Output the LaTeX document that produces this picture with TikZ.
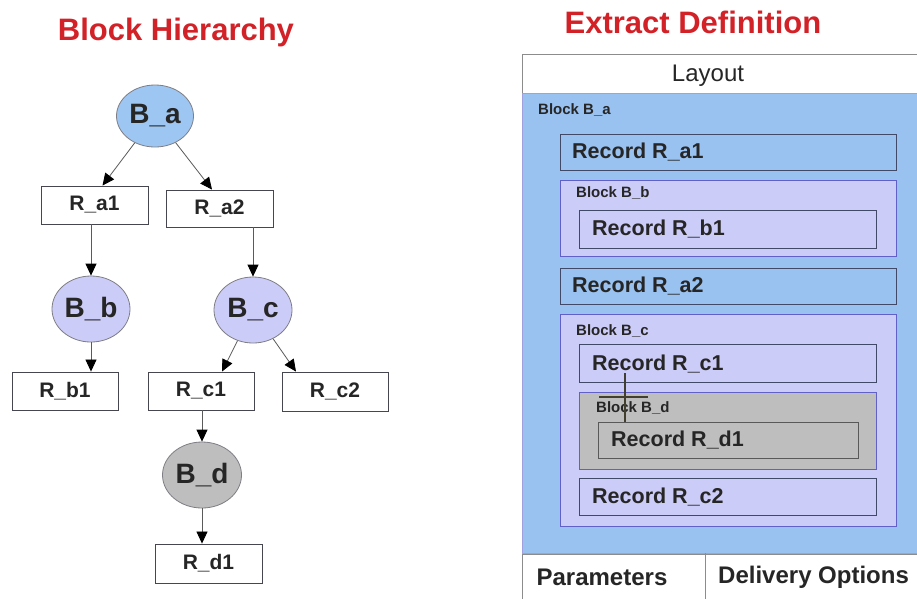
\documentclass[tikz,border=0pt]{standalone}
\usepackage{fontspec}
\setmainfont{Liberation Sans}
\usetikzlibrary{shapes.geometric,arrows.meta}
\definecolor{titlered}{RGB}{210,34,40}
\definecolor{bablue}{RGB}{158,198,242}
\definecolor{blkblue}{RGB}{153,194,240}
\definecolor{lav}{RGB}{204,204,248}
\definecolor{greyfill}{RGB}{190,190,190}
\definecolor{edgegrey}{RGB}{70,70,80}
\definecolor{blkedge}{RGB}{96,96,200}
\definecolor{recedge}{RGB}{64,74,104}
\definecolor{linegrey}{RGB}{90,90,90}
\tikzset{
  title/.style={text=titlered, font=\fontsize{31}{34}\selectfont\bfseries, inner sep=0pt},
  blk/.style={ellipse, draw=edgegrey!70, line width=0.8pt, inner sep=0pt, font=\fontsize{28}{30}\selectfont\bfseries, text=black!85},
  rbox/.style={rectangle, draw=edgegrey, fill=white, line width=0.9pt, inner sep=0pt, font=\fontsize{21}{23}\selectfont\bfseries, text=black!85},
  conn/.style={draw=linegrey, line width=0.8pt, -{Triangle[length=12pt,width=11pt,color=black]}},
  area/.style={rectangle, anchor=north west, inner sep=0pt, line width=1pt},
  rec/.style={area, draw=recedge},
  blkarea/.style={area, draw=blkedge},
  rectxt/.style={anchor=west, inner sep=0pt, font=\fontsize{21.5}{23}\selectfont\bfseries, text=black!85},
  blktxt/.style={anchor=west, inner sep=0pt, font=\fontsize{15}{17}\selectfont\bfseries, text=black!85},
}
\begin{document}
\begin{tikzpicture}[x=1pt,y=-1pt]
\useasboundingbox (0,0) rectangle (917,598);
\clip (0,0) rectangle (917,598);
\fill[white] (0,0) rectangle (917,598);

% ---------- left: Block Hierarchy ----------
\node[title] (tl) at (176,32) {Block Hierarchy};

\node[blk, fill=bablue, minimum width=77pt, minimum height=62pt] (Ba) at (155,116) {B\_a};
\node[rbox, minimum width=107pt, minimum height=38pt] (Ra1) at (94.5,205) {R\_a1};
\node[rbox, minimum width=107pt, minimum height=37pt] (Ra2) at (219.5,208.5) {R\_a2};
\node[blk, fill=lav, minimum width=78pt, minimum height=66pt] (Bb) at (91,309) {B\_b};
\node[blk, fill=lav, minimum width=78pt, minimum height=66pt] (Bc) at (253,310) {B\_c};
\node[rbox, minimum width=106pt, minimum height=38pt] (Rb1) at (65,391) {R\_b1};
\node[rbox, minimum width=106pt, minimum height=38pt] (Rc1) at (201,391) {R\_c1};
\node[rbox, minimum width=106pt, minimum height=39pt] (Rc2) at (335,391.5) {R\_c2};
\node[blk, fill=greyfill, minimum width=79pt, minimum height=66pt] (Bd) at (202,475) {B\_d};
\node[rbox, minimum width=107pt, minimum height=39pt] (Rd1) at (208.5,563.5) {R\_d1};

\draw[conn] (Ba) -- ([xshift=8pt]Ra1.north);
\draw[conn] (Ba) -- ([xshift=-7.5pt]Ra2.north);
\draw[conn] (Bb.north |- Ra1.south) -- (Bb.north);
\draw[conn] (Bc.north |- Ra2.south) -- (Bc.north);
\draw[conn] (Bb.south) -- (Bb.south |- Rb1.north);
\draw[conn] (Bc) -- ([xshift=21pt]Rc1.north);
\draw[conn] (Bc) -- ([xshift=-39pt]Rc2.north);
\draw[conn] (Bd.north |- Rc1.south) -- (Bd.north);
\draw[conn] (Bd.south) -- (Bd.south |- Rd1.north);

% ---------- right: Extract Definition ----------
\node[title] (tr) at (693,22) {Extract Definition};

\node[area, draw=black!45, fill=white, minimum width=420pt, minimum height=560pt] (frame) at (522,54) {};
\node[area, draw=blkedge!60, fill=blkblue, minimum width=420pt, minimum height=460pt] (BlkA) at (522,93) {};
\node[anchor=center, inner sep=0pt, font=\fontsize{24}{26}\selectfont, text=black!85] (lay) at (708,76) {Layout};
\node[blktxt] (tBa) at (538,110) {Block B\_a};

\node[rec, fill=blkblue, minimum width=336pt, minimum height=36pt] (RecA1) at (560,134) {};
\node[rectxt] (tA1) at (572,152) {Record R\_a1};

\node[blkarea, fill=lav, minimum width=336pt, minimum height=76pt] (BlkB) at (560,180) {};
\node[blktxt] (tBb) at (576,193) {Block B\_b};
\node[rec, fill=lav, minimum width=297pt, minimum height=38pt] (RecB1) at (579,210) {};
\node[rectxt] (tB1) at (592,229) {Record R\_b1};

\node[rec, fill=blkblue, minimum width=336pt, minimum height=36pt] (RecA2) at (560,268) {};
\node[rectxt] (tA2) at (572,286) {Record R\_a2};

\node[blkarea, fill=lav, minimum width=336pt, minimum height=212pt] (BlkC) at (560,314) {};
\node[blktxt] (tBc) at (576,331) {Block B\_c};
\node[rec, fill=lav, minimum width=297pt, minimum height=38pt] (RecC1) at (579,344) {};
\node[rectxt] (tC1) at (592,364) {Record R\_c1};

\node[blkarea, fill=greyfill, minimum width=297pt, minimum height=77pt] (BlkD) at (579,392) {};
\node[blktxt] (tBd) at (596,408) {Block B\_d};
\node[rec, draw=black!65, fill=greyfill, minimum width=260pt, minimum height=36pt] (RecD1) at (598,422) {};
\node[rectxt] (tD1) at (611,440) {Record R\_d1};

\node[rec, fill=lav, minimum width=297pt, minimum height=37pt] (RecC2) at (579,478) {};
\node[rectxt] (tC2) at (592,497) {Record R\_c2};

% stray cross mark
\draw[draw=black!70!olive, line width=1.3pt] (625,373) -- (625,422);
\draw[draw=black!70!olive, line width=1.3pt] (599,397) -- (648,397);

% bottom row
\draw[draw=black!45, line width=1pt] (BlkA.south west) -- (BlkA.south east);
\coordinate (divtop) at (705,553);
\draw[draw=black!45, line width=1pt] (divtop) -- ++(0,60);
\node[anchor=center, inner sep=0pt, font=\fontsize{24}{26}\selectfont\bfseries, text=black!85] (par) at (602,577) {Parameters};
\node[anchor=west, inner sep=0pt, font=\fontsize{24}{26}\selectfont\bfseries, text=black!85] (del) at (718,577) {Delivery Options};
\end{tikzpicture}
\end{document}
